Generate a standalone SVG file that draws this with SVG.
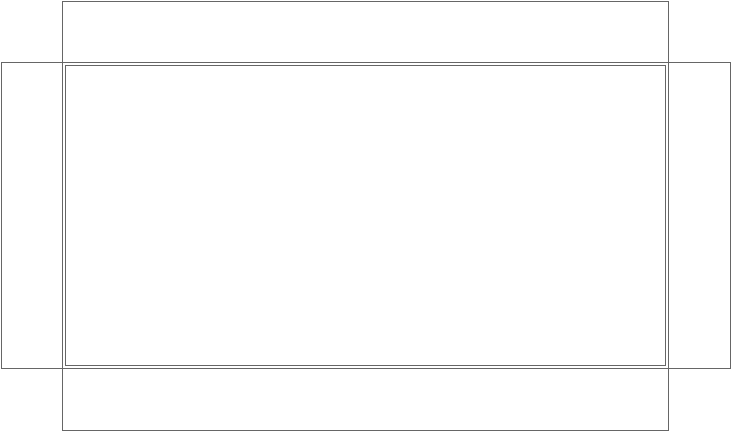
<svg xmlns="http://www.w3.org/2000/svg" width="732" height="432" viewBox="0 0 732 432">
<style>
.l{fill:none;stroke:#666;stroke-width:1}
</style>
<rect width="732" height="432" fill="#fff"/>
<g id="top-flap"><rect class="l" x="62.5" y="1.5" width="606" height="61"/></g>
<g id="left-flap"><rect class="l" x="1.5" y="62.5" width="61" height="306"/></g>
<g id="right-flap"><rect class="l" x="668.5" y="62.5" width="62" height="306"/></g>
<g id="bottom-flap"><rect class="l" x="62.5" y="368.5" width="606" height="62"/></g>
<g id="base"><rect class="l" x="62.5" y="62.5" width="606" height="306"/></g>
<g id="inner"><rect class="l" x="65.5" y="65.5" width="600" height="300"/></g>
<g id="connectors"></g>
</svg>
